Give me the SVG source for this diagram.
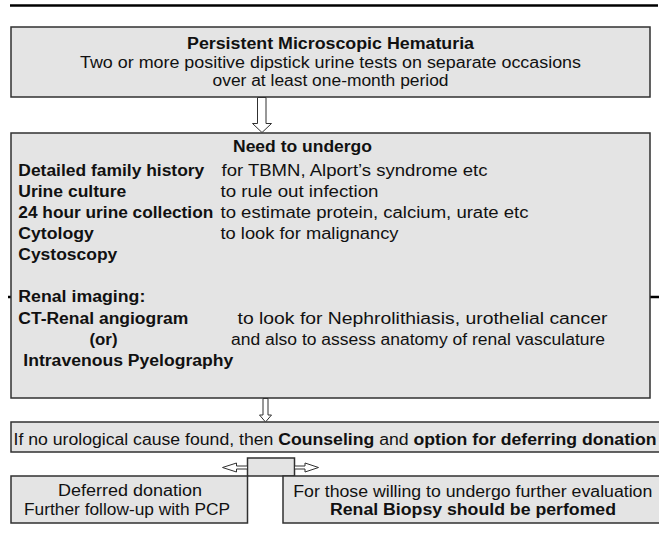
<svg xmlns="http://www.w3.org/2000/svg" width="659" height="537" viewBox="0 0 659 537">
<style>
.box{fill:#e4e4e4;stroke:#303030;stroke-width:1.5}
.t{font-family:"Liberation Sans",Arial,Helvetica,sans-serif;font-size:16px;fill:#111}
.b{font-weight:bold}
.arrow{fill:#fff;stroke:#303030;stroke-width:1}
.rule{stroke:#000;stroke-width:2.5}
</style>
<rect width="659" height="537" fill="#fff"/>
<line class="rule" x1="10" y1="5.5" x2="658" y2="5.5"/>
<line class="rule" x1="8" y1="297" x2="659" y2="297"/>

<g id="node-hematuria">
<rect class="box" x="11" y="27" width="639" height="70"/>
<text class="t b" x="330.5" y="49" text-anchor="middle" textLength="287" lengthAdjust="spacingAndGlyphs">Persistent Microscopic Hematuria</text>
<text class="t" x="330.5" y="67.5" text-anchor="middle" textLength="501" lengthAdjust="spacingAndGlyphs">Two or more positive dipstick urine tests on separate occasions</text>
<text class="t" x="330.5" y="86" text-anchor="middle" textLength="236" lengthAdjust="spacingAndGlyphs">over at least one-month period</text>
</g>

<g id="node-workup">
<rect class="box" x="11" y="133" width="639" height="265"/>
<text class="t b" x="233" y="152" textLength="139" lengthAdjust="spacingAndGlyphs">Need to undergo</text>
<text class="t b" x="18.3" y="176" textLength="186" lengthAdjust="spacingAndGlyphs">Detailed family history</text>
<text class="t" x="221.5" y="176" textLength="266" lengthAdjust="spacingAndGlyphs">for TBMN, Alport’s syndrome etc</text>
<text class="t b" x="18.3" y="197" textLength="108" lengthAdjust="spacingAndGlyphs">Urine culture</text>
<text class="t" x="220.5" y="197" textLength="158" lengthAdjust="spacingAndGlyphs">to rule out infection</text>
<text class="t b" x="18.3" y="218" textLength="195" lengthAdjust="spacingAndGlyphs">24 hour urine collection</text>
<text class="t" x="220.5" y="218" textLength="308" lengthAdjust="spacingAndGlyphs">to estimate protein, calcium, urate etc</text>
<text class="t b" x="18.3" y="239" textLength="75.5" lengthAdjust="spacingAndGlyphs">Cytology</text>
<text class="t" x="220.5" y="239" textLength="178" lengthAdjust="spacingAndGlyphs">to look for malignancy</text>
<text class="t b" x="18.3" y="260" textLength="99" lengthAdjust="spacingAndGlyphs">Cystoscopy</text>
<text class="t b" x="18.3" y="302" textLength="127" lengthAdjust="spacingAndGlyphs">Renal imaging:</text>
<text class="t b" x="18.3" y="324" textLength="170" lengthAdjust="spacingAndGlyphs">CT-Renal angiogram</text>
<text class="t" x="237.5" y="324" textLength="370" lengthAdjust="spacingAndGlyphs">to look for Nephrolithiasis, urothelial cancer</text>
<text class="t b" x="89.5" y="345" textLength="28" lengthAdjust="spacingAndGlyphs">(or)</text>
<text class="t" x="231" y="345" textLength="374" lengthAdjust="spacingAndGlyphs">and also to assess anatomy of renal vasculature</text>
<text class="t b" x="23.3" y="365.5" textLength="210" lengthAdjust="spacingAndGlyphs">Intravenous Pyelography</text>
</g>

<g id="node-counseling">
<rect class="box" x="11" y="422" width="652" height="30"/>
<text class="t" x="13.5" y="444.5" textLength="643" lengthAdjust="spacingAndGlyphs">If no urological cause found, then <tspan class="b">Counseling</tspan> and <tspan class="b">option for deferring donation</tspan></text>
</g>

<g id="node-branch">
<rect class="box" x="247.5" y="458" width="47" height="18"/>
</g>

<g id="node-deferred">
<rect class="box" x="11" y="476" width="236.5" height="47"/>
<text class="t" x="130" y="496" text-anchor="middle" textLength="144" lengthAdjust="spacingAndGlyphs">Deferred donation</text>
<text class="t" x="127" y="515" text-anchor="middle" textLength="206" lengthAdjust="spacingAndGlyphs">Further follow-up with PCP</text>
</g>

<g id="node-biopsy">
<rect class="box" x="283" y="476" width="380" height="47"/>
<text class="t" x="293.3" y="496.5" textLength="359" lengthAdjust="spacingAndGlyphs">For those willing to undergo further evaluation</text>
<text class="t b" x="330" y="515" textLength="286" lengthAdjust="spacingAndGlyphs">Renal Biopsy should be perfomed</text>
</g>

<g id="connectors">
<polygon class="arrow" points="257.5,97.5 266,97.5 266,123.5 271.5,123.5 262,132.5 252.5,123.5 257.5,123.5"/>
<polygon class="arrow" points="263,398.5 268,398.5 268,415 271.5,415 265.5,422 259.5,415 263,415"/>
<polygon class="arrow" points="247.5,466 236.5,466 236.5,463 222.5,467.5 236.5,472 236.5,469 247.5,469"/>
<polygon class="arrow" points="294.5,466 305,466 305,463 318.5,467.5 305,472 305,469 294.5,469"/>
</g>
</svg>
